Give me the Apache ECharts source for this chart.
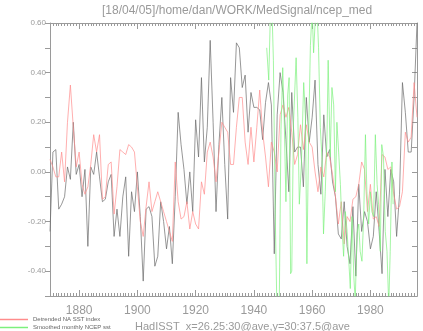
<!DOCTYPE html>
<html>
<head>
<meta charset="UTF-8">
<title>ncep_med</title>
<script src="https://cdn.jsdelivr.net/npm/echarts@6.0.0/dist/echarts.min.js"></script>
<style>
  html, body { margin: 0; padding: 0; background: #fff; }
  #chart { width: 423px; height: 331px; }
</style>
</head>
<body>
<div id="chart"></div>
<script>
// annual series start in 1870
const firstYear = 1870;

// HadISST box average (black)
const hadisst = [
  -0.24, 0.08, 0.09, -0.15, -0.13, -0.10, 0.02, -0.03, 0.20, -0.01,
  0.03, -0.10, 0.01, -0.30, 0.02, -0.01, 0.08, -0.02, -0.12, -0.11,
  -0.04, -0.01, -0.26, -0.15, -0.26, -0.10, -0.02, -0.34, -0.08, -0.16,
  0.00, -0.18, -0.44, -0.15, -0.14, -0.18, -0.38, -0.34, -0.12, -0.20,
  -0.31, -0.22, -0.37, -0.10, 0.24, 0.11, 0.01, -0.13, 0.00, -0.16,
  0.21, 0.06, 0.38, 0.04, 0.18, 0.53, 0.20, -0.16, 0.11, 0.30,
  0.03, -0.19, 0.38, 0.24, 0.52, 0.50, 0.34, 0.39, 0.16, 0.32,
  0.26, 0.26, 0.25, 0.13, 0.28, 0.36, 0.27, -0.33, 0.23, 0.40,
  0.32, 0.13, -0.08, 0.32, 0.08, 0.10, 0.10, -0.06, 0.30, 0.12,
  0.22, 0.37, 0.03, -0.09, 0.23, 0.06, 0.09, -0.04, -0.10, -0.25,
  -0.27, -0.12, -0.30, -0.37, -0.14, -0.42, -0.05, -0.24, -0.16, -0.20,
  -0.31, -0.26, -0.08, -0.24, -0.41, 0.01, -0.18, 0.01, -0.04, -0.26,
  -0.09, 0.36, 0.24, 0.08, 0.08, 0.30, 0.60
];

// Detrended NA SST index (red)
const naIndex = [
  0.05, 0.02, -0.02, -0.02, 0.08, -0.04, 0.20, 0.35, 0.18, 0.02,
  0.08, -0.05, -0.09, -0.06, 0.03, 0.15, 0.08, 0.15, -0.11, -0.10,
  0.03, 0.04, -0.17, -0.06, 0.09, 0.08, 0.07, 0.11, 0.10, 0.08,
  -0.06, -0.20, -0.26, -0.14, -0.04, -0.16, -0.12, -0.08, -0.12, -0.16,
  -0.20, -0.24, -0.28, 0.04, -0.12, -0.19, -0.18, -0.12, -0.23, -0.16,
  -0.21, -0.23, -0.04, -0.09, 0.08, 0.12, 0.06, -0.04, 0.08, 0.20,
  0.18, 0.16, 0.03, 0.03, 0.18, 0.30, 0.30, 0.12, 0.03, 0.18,
  0.04, 0.18, 0.33, 0.16, 0.06, -0.06, 0.12, 0.08, 0.00, 0.23,
  0.27, 0.22, 0.26, 0.16, 0.03, 0.07, 0.19, 0.09, 0.19, 0.12,
  0.10, 0.00, -0.08, 0.02, -0.02, 0.08, 0.06, -0.01, -0.10, -0.21,
  -0.12, -0.29, -0.18, -0.20, -0.11, -0.10, -0.05, 0.04, 0.01, -0.16,
  -0.05, -0.19, -0.18, -0.22, 0.07, 0.06, 0.01, 0.02, -0.09, -0.15,
  -0.14, -0.08, 0.16, 0.12, 0.14, 0.36, 0.22
];

// Smoothed monthly NCEP sst (green)
const ncepTime = [
  1944.4, 1945.1, 1945.7, 1946.2, 1946.7, 1947.3, 1947.9, 1948.7, 1949.3, 1949.9,
  1950.4, 1951.0, 1951.6, 1952.1, 1952.6, 1953.0, 1953.6, 1954.5, 1955.1, 1955.6,
  1956.3, 1957.1, 1957.7, 1958.2, 1958.8, 1959.4, 1960.0, 1960.5, 1961.1, 1961.7,
  1962.2, 1962.8, 1963.4, 1963.9, 1964.5, 1965.1, 1965.5, 1966.2, 1966.8, 1967.4,
  1968.0, 1968.5, 1969.1, 1969.7, 1970.2, 1970.8, 1971.4, 1972.0, 1972.5, 1973.1,
  1973.7, 1974.3, 1974.8, 1975.4, 1976.0, 1976.5, 1977.1, 1977.7, 1978.3, 1978.8,
  1979.4, 1980.0, 1980.5, 1981.1, 1981.7, 1982.3, 1982.8, 1983.4, 1983.9, 1984.5,
  1985.1, 1985.7, 1986.3, 1986.8, 1987.4, 1987.8
];
const ncepSst = [
  0.50, 0.37, 0.65, 0.66, 0.45, -0.15, -0.55, -0.55, 0.17, 0.42,
  0.22, -0.12, 0.31, 0.38, -0.41, -0.40, 0.20, 0.46, 0.22, -0.13,
  0.03, 0.36, 0.22, -0.37, 0.15, 0.51, 0.65, 0.48, 0.62, 0.65,
  0.50, 0.18, 0.05, -0.25, -0.08, 0.14, 0.45, 0.06, 0.34, 0.27,
  -0.08, 0.20, 0.08, -0.05, -0.21, -0.34, -0.16, -0.24, -0.34, -0.47,
  -0.18, -0.42, -0.52, -0.25, -0.21, -0.32, -0.36, -0.18, 0.15, -0.08,
  -0.21, -0.08, -0.16, -0.18, 0.15, -0.05, -0.13, -0.32, 0.11, 0.06,
  -0.24, -0.32, -0.54, -0.32, 0.04, -0.13
];

const yearLabels = [1880, 1900, 1920, 1940, 1960, 1980];
const lastYear = 1996;

const years = hadisst.map((v, i) => firstYear + i);
const allYears = [];
for (let y = firstYear; y <= lastYear; y++) allYears.push(y);

const axisGrey = '#9a9a9a';
const font = 'Liberation Sans';
const red = '#ff8c8c';
const green = '#7cf07c';

function xAxisDef(pos, ticks, len, labels) {
  return {
    type: 'value', position: pos, min: firstYear, max: lastYear,
    axisLine: { show: true, onZero: false, lineStyle: { color: axisGrey, width: 1 } },
    axisTick: { show: true, inside: true, length: len, customValues: ticks,
                lineStyle: { color: axisGrey, width: 1 } },
    axisLabel: labels
      ? { show: true, customValues: yearLabels, color: axisGrey, fontFamily: font,
          fontSize: 12, margin: 9, formatter: v => String(v) }
      : { show: false },
    splitLine: { show: false }
  };
}

function yAxisDef(pos, inside, labels) {
  return {
    type: 'value', position: pos, min: -0.5, max: 0.6, interval: 0.1,
    axisLine: { show: true, onZero: false, lineStyle: { color: axisGrey, width: 1 } },
    axisTick: { show: true, inside: inside, length: 5, lineStyle: { color: axisGrey, width: 1 } },
    axisLabel: labels ? {
      show: true, color: axisGrey, fontFamily: font, fontSize: 8, margin: 4,
      formatter: v => (Math.round(v * 10) % 2 === 0) ? v.toFixed(2) : ''
    } : { show: false },
    splitLine: { show: false }
  };
}

const chart = echarts.init(document.getElementById('chart'), null, { renderer: 'canvas' });
chart.setOption({
  animation: false,
  backgroundColor: '#fff',
  title: [
    { text: '[18/04/05]/home/dan/WORK/MedSignal/ncep_med', left: 97, top: 0,
      textStyle: { color: axisGrey, fontFamily: font, fontSize: 12, fontWeight: 'normal' } },
    { text: 'HadISST  x=26.25:30@ave,y=30:37.5@ave', left: 130, top: 316,
      textStyle: { color: axisGrey, fontFamily: font, fontSize: 11, fontWeight: 'normal' } }
  ],
  legend: {
    data: [
      { name: 'Detrended NA SST index', icon: 'rect', itemStyle: { color: red, borderWidth: 0 } },
      { name: 'Smoothed monthly NCEP sst', icon: 'rect', itemStyle: { color: green, borderWidth: 0 } }
    ],
    orient: 'vertical', left: 0, top: 316,
    itemWidth: 28, itemHeight: 1.5, itemGap: 1,
    padding: 0,
    textStyle: { color: '#666', fontFamily: font, fontSize: 6, lineHeight: 7 }
  },
  grid: { left: 50, right: 6, top: 23, bottom: 35, containLabel: false },
  xAxis: [
    xAxisDef('bottom', yearLabels, 6, true),
    xAxisDef('bottom', allYears, 3, false),
    xAxisDef('top', yearLabels, 6, false),
    xAxisDef('top', allYears, 3, false)
  ],
  yAxis: [
    yAxisDef('left', false, true),
    yAxisDef('right', true, false)
  ],
  series: [
    {
      name: 'HadISST', type: 'line', xAxisIndex: 0, yAxisIndex: 0,
      showSymbol: false, clip: true,
      lineStyle: { color: '#6a6a6a', width: 0.7 },
      data: years.map((y, i) => [y, hadisst[i]])
    },
    {
      name: 'Detrended NA SST index', type: 'line', xAxisIndex: 0, yAxisIndex: 0,
      showSymbol: false, clip: true,
      itemStyle: { color: red },
      lineStyle: { color: red, width: 0.7 },
      data: years.map((y, i) => [y, naIndex[i]])
    },
    {
      name: 'Smoothed monthly NCEP sst', type: 'line', xAxisIndex: 0, yAxisIndex: 0,
      showSymbol: false, clip: true,
      itemStyle: { color: green },
      lineStyle: { color: green, width: 0.7 },
      data: ncepTime.map((t, i) => [t, ncepSst[i]])
    }
  ]
});
</script>
</body>
</html>
